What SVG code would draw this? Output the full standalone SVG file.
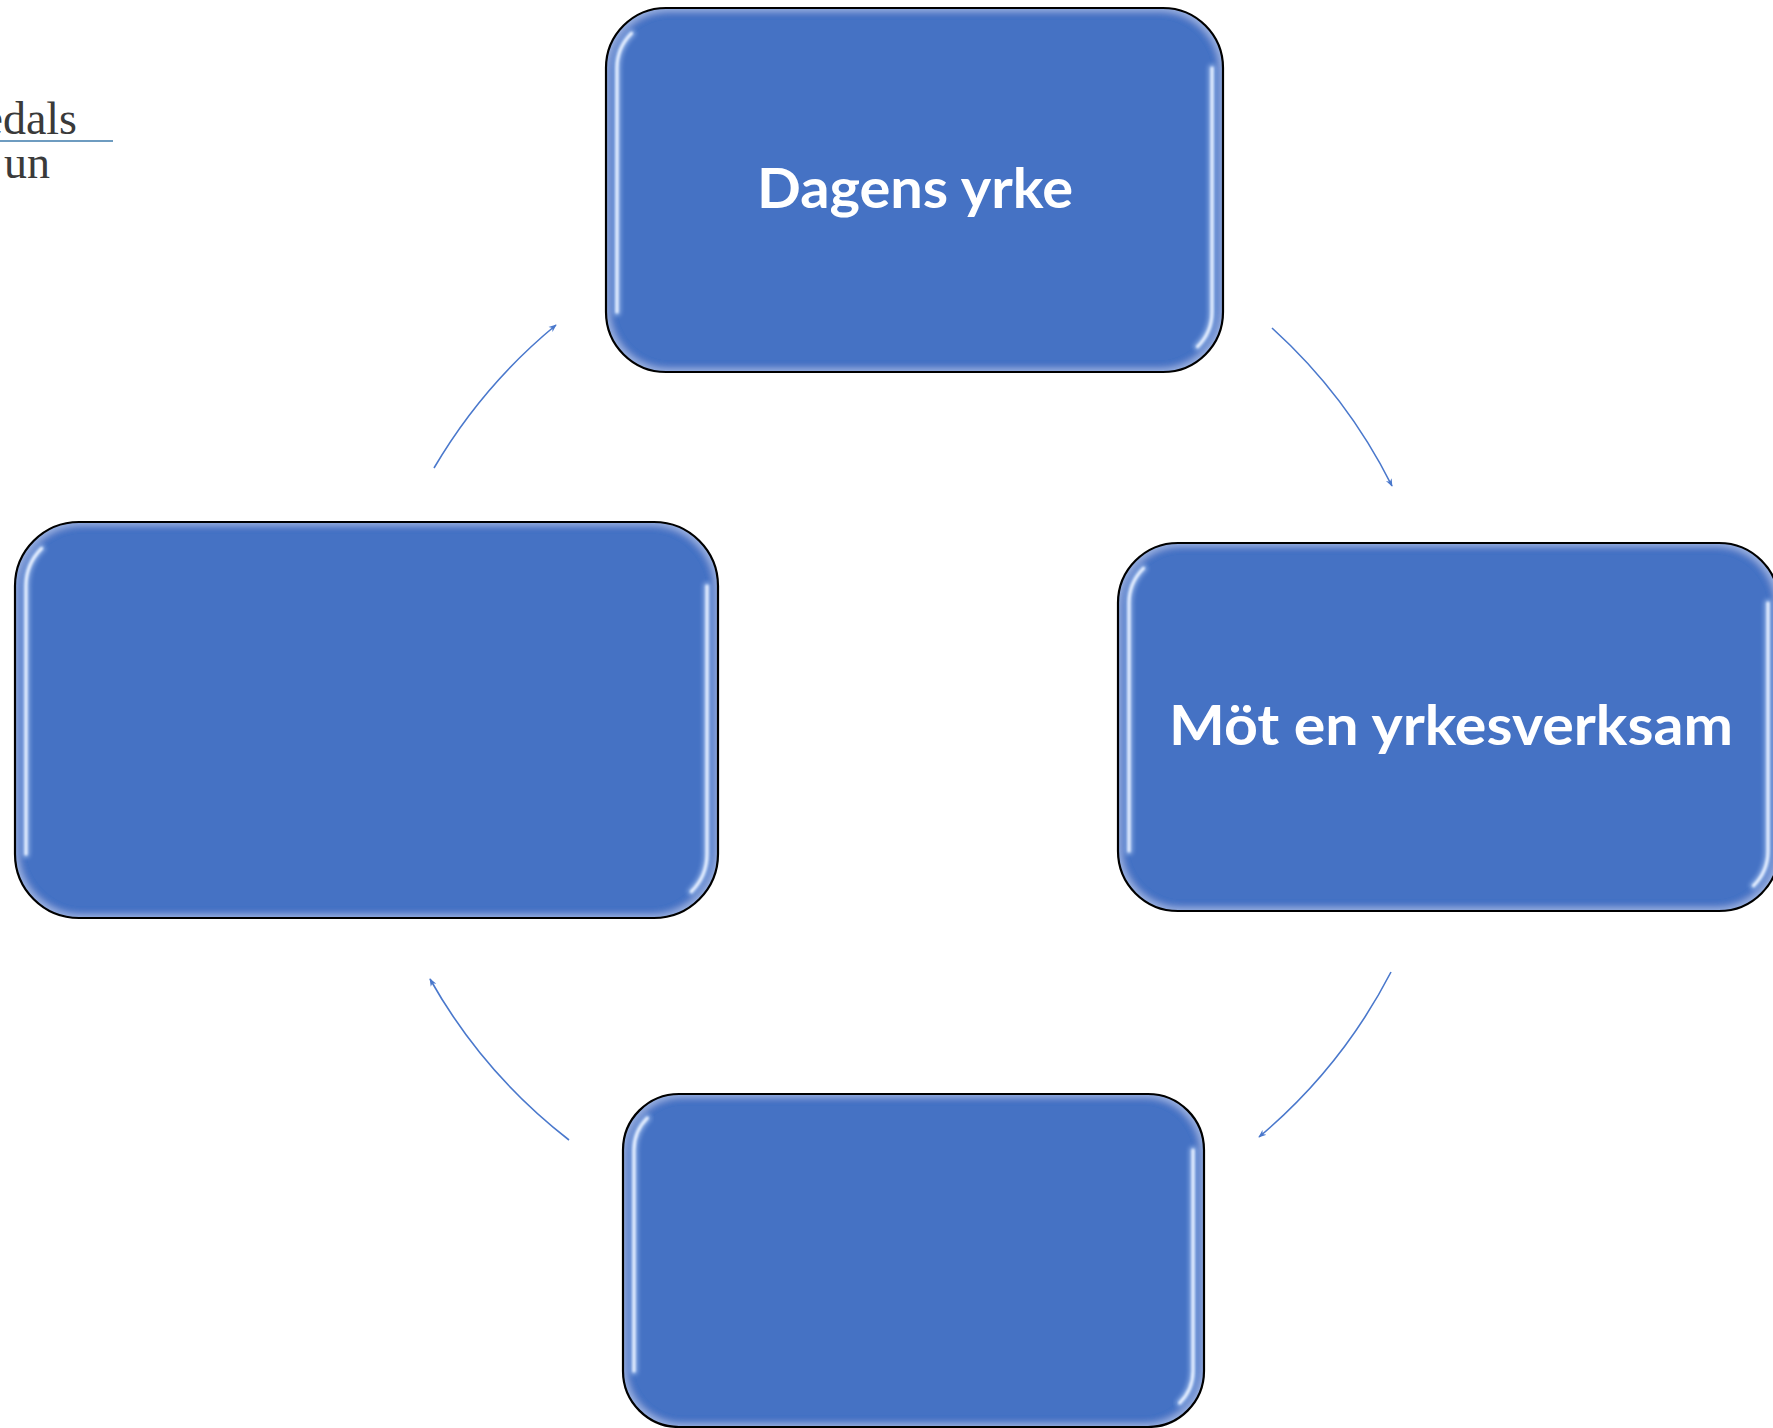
<svg xmlns="http://www.w3.org/2000/svg" width="1773" height="1428" viewBox="0 0 1773 1428">
<style>
.fill{fill:#4472C4;filter:url(#ig)}
.edge{fill:none;stroke:#000;stroke-width:2.2}
.halo{fill:none;stroke:#9DBBEC;stroke-width:8;stroke-linecap:round;opacity:0.7;filter:url(#wide)}
.hl{fill:none;stroke:#E4EEFF;stroke-width:3.2;stroke-linecap:round;filter:url(#soft)}
.lbl{font-family:Lato,"Open Sans","Liberation Sans",sans-serif;font-weight:700;font-size:56px;fill:#FFFFFF;text-anchor:middle}
.conn{fill:none;stroke:#4A78CC;stroke-width:1.6;marker-end:url(#ah)}
.logo{font-family:"Liberation Serif","DejaVu Serif",serif;font-size:46px;fill:#3A3A3A;text-anchor:end}
</style>
<defs>
<filter id="ig" x="-5%" y="-5%" width="110%" height="110%">
<feMorphology operator="erode" radius="3" in="SourceAlpha" result="e"/>
<feGaussianBlur in="e" stdDeviation="3.5" result="b"/>
<feComposite in="SourceAlpha" in2="b" operator="out" result="ring"/>
<feFlood flood-color="#A7BDE8" flood-opacity="0.85" result="c"/>
<feComposite in="c" in2="ring" operator="in" result="glow"/>
<feMerge><feMergeNode in="SourceGraphic"/><feMergeNode in="glow"/></feMerge>
</filter>
<filter id="soft" x="-20%" y="-5%" width="140%" height="110%">
<feGaussianBlur stdDeviation="0.9"/>
</filter>
<filter id="wide" x="-50%" y="-10%" width="200%" height="120%">
<feGaussianBlur stdDeviation="2.2"/>
</filter>
<marker id="ah" viewBox="0 0 10 10" refX="9" refY="5" markerUnits="userSpaceOnUse" markerWidth="8" markerHeight="8" orient="auto">
<path d="M0,1 L10,5 L0,9 L3,5 Z" fill="#4A78CC"/>
</marker>
</defs>
<rect x="0" y="0" width="1773" height="1428" fill="#FFFFFF"/>

<g id="logo">
<text class="logo" x="77" y="134">edals</text>
<line x1="0" y1="141" x2="113" y2="141" stroke="#6E9CC0" stroke-width="2"/>
<text class="logo" x="50" y="178">un</text>
</g>

<g id="connectors">
<path class="conn" d="M1272,328 A538,538 0 0,1 1392,486"/>
<path class="conn" d="M1391,972 A538,538 0 0,1 1259,1137"/>
<path class="conn" d="M569,1140 A538,538 0 0,1 430,979"/>
<path class="conn" d="M434,468 A538,538 0 0,1 556,325"/>
</g>

<g id="node-top">
<rect class="fill" x="606" y="8" width="617" height="364" rx="60" ry="60"/>
<path class="halo" d="M631.4,33.4 A49,49 0 0,0 617,68 L617,312"/>
<path class="halo" d="M1212,68 L1212,312 A49,49 0 0,1 1197.6,346.6"/>
<path class="hl" d="M631.4,33.4 A49,49 0 0,0 617,68 L617,312"/>
<path class="hl" d="M1212,68 L1212,312 A49,49 0 0,1 1197.6,346.6"/>
<rect class="edge" x="606" y="8" width="617" height="364" rx="60" ry="60"/>
<text class="lbl" x="915" y="208" textLength="316" lengthAdjust="spacingAndGlyphs">Dagens yrke</text>
</g>

<g id="node-right">
<rect class="fill" x="1118" y="543" width="661" height="368" rx="60" ry="60"/>
<path class="halo" d="M1143.4,568.4 A49,49 0 0,0 1129,603 L1129,851"/>
<path class="halo" d="M1768,603 L1768,851 A49,49 0 0,1 1753.6,885.6"/>
<path class="hl" d="M1143.4,568.4 A49,49 0 0,0 1129,603 L1129,851"/>
<path class="hl" d="M1768,603 L1768,851 A49,49 0 0,1 1753.6,885.6"/>
<rect class="edge" x="1118" y="543" width="661" height="368" rx="60" ry="60"/>
<text class="lbl" x="1451" y="745" textLength="564" lengthAdjust="spacingAndGlyphs">Möt en yrkesverksam</text>
</g>

<g id="node-bottom">
<rect class="fill" x="623" y="1094" width="581" height="333" rx="56" ry="56"/>
<path class="halo" d="M647.2,1118.2 A45,45 0 0,0 634,1150 L634,1371"/>
<path class="halo" d="M1193,1150 L1193,1371 A45,45 0 0,1 1179.8,1402.8"/>
<path class="hl" d="M647.2,1118.2 A45,45 0 0,0 634,1150 L634,1371"/>
<path class="hl" d="M1193,1150 L1193,1371 A45,45 0 0,1 1179.8,1402.8"/>
<rect class="edge" x="623" y="1094" width="581" height="333" rx="56" ry="56"/>
</g>

<g id="node-left">
<rect class="fill" x="15" y="522" width="703" height="396" rx="64" ry="64"/>
<path class="halo" d="M41.5,548.5 A53,53 0 0,0 26,586 L26,854"/>
<path class="halo" d="M707,586 L707,854 A53,53 0 0,1 691.5,891.5"/>
<path class="hl" d="M41.5,548.5 A53,53 0 0,0 26,586 L26,854"/>
<path class="hl" d="M707,586 L707,854 A53,53 0 0,1 691.5,891.5"/>
<rect class="edge" x="15" y="522" width="703" height="396" rx="64" ry="64"/>
</g>
</svg>
